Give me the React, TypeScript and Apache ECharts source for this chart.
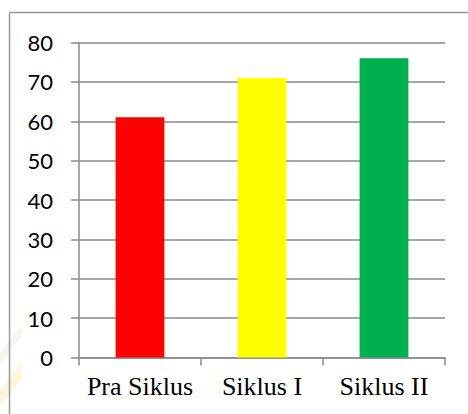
import React, { useEffect, useRef } from "react";
import * as echarts from "echarts";

const categories = ["Pra Siklus", "Siklus I", "Siklus II"];
const values = [61, 71, 76];
const barColors = ["#ff0000", "#ffff00", "#00b050"];
const yTicks = { min: 0, max: 80, interval: 10 };

export default function App() {
  const ref = useRef<HTMLDivElement>(null);
  useEffect(() => {
    if (!ref.current) return;
    const chart = echarts.init(ref.current, null, { renderer: "svg" });
    const grey = "#8a8a8a";
    chart.setOption({
      animation: false,
      backgroundColor: "#ffffff",
      grid: { left: 79, right: 23, top: 42.5, bottom: 56.5, containLabel: false },
      graphic: [
        {
          type: "polygon",
          shape: { points: [[0, 390], [22, 362], [22, 378], [0, 406]] },
          style: { fill: "#fcf6dc" },
          silent: true,
          z: 0,
        },
        {
          type: "polygon",
          shape: { points: [[0, 352], [22, 324], [22, 336], [0, 364]] },
          style: { fill: "#f6f6f0" },
          silent: true,
          z: 0,
        },
        {
          type: "line",
          shape: { x1: 9.5, y1: 12.5, x2: 468, y2: 12.5 },
          style: { stroke: "#999999", lineWidth: 1.5 },
          silent: true,
          z: 10,
        },
        {
          type: "line",
          shape: { x1: 9.5, y1: 12.5, x2: 9.5, y2: 414 },
          style: { stroke: "#999999", lineWidth: 1.5 },
          silent: true,
          z: 10,
        },
      ],
      xAxis: {
        type: "category",
        data: categories,
        boundaryGap: true,
        axisLine: { show: true, lineStyle: { color: grey, width: 1.5 } },
        axisTick: { show: true, length: 8, lineStyle: { color: grey, width: 1.5 } },
        axisLabel: {
          interval: 0,
          color: "#000000",
          fontFamily: "Liberation Serif",
          fontSize: 26,
          margin: 16,
        },
        splitLine: { show: false },
      },
      yAxis: {
        type: "value",
        min: yTicks.min,
        max: yTicks.max,
        interval: yTicks.interval,
        axisLine: { show: true, lineStyle: { color: grey, width: 1.5 } },
        axisTick: { show: true, length: 8, lineStyle: { color: grey, width: 1.5 } },
        axisLabel: {
          color: "#000000",
          fontFamily: "Lato",
          fontSize: 22,
          margin: 26,
        },
        splitLine: { show: true, lineStyle: { color: grey, width: 1.5 } },
      },
      series: [
        {
          type: "bar",
          barWidth: "40%",
          data: values.map((v, i) => ({ value: v, itemStyle: { color: barColors[i] } })),
        },
      ],
    });
    return () => chart.dispose();
  }, []);
  return (
    <div
      ref={ref}
      style={{ position: "fixed", left: 0, top: 0, width: 468, height: 414 }}
    />
  );
}
